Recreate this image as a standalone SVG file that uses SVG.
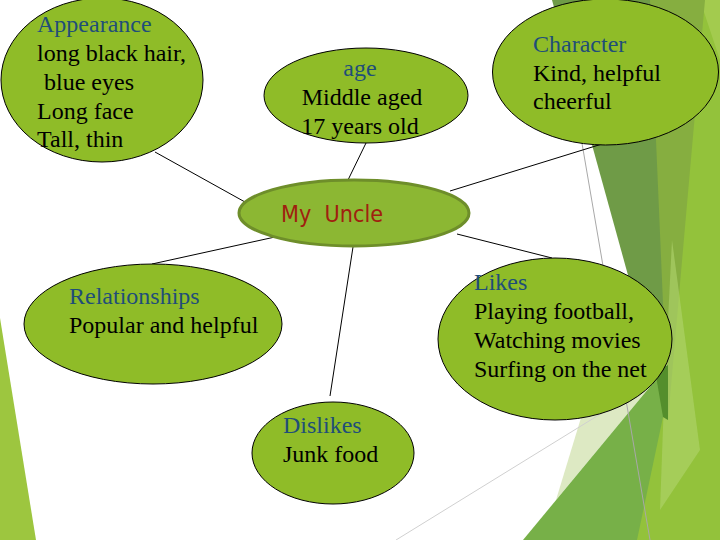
<svg xmlns="http://www.w3.org/2000/svg" width="720" height="540" viewBox="0 0 720 540">
<style>
.bub{fill:#8FBC28;stroke:#000;stroke-width:1}
.hub{fill:#8CB733;stroke:#6E8E2A;stroke-width:3}
.t{font-family:"Liberation Serif","Times New Roman",serif;font-size:24px;fill:#000}
.h{fill:#1F4E79}
.c{stroke:#000;stroke-width:1;fill:none}
.hubt{font-family:"DejaVu Sans Condensed","DejaVu Sans",Verdana,sans-serif;font-size:23px;fill:#A0200F}
</style>
<rect width="720" height="540" fill="#fff"/>
<g id="background">
<polygon points="0,318 36,540 0,540" fill="#9DC63F"/>
<polygon points="680,0 720,0 720,540 620,540 668,380" fill="#93C23B"/>
<polygon points="700,0 720,0 720,60" fill="#A3CB4E"/>
<polygon points="640,0 705,0 668,420" fill="#86AE40"/>
<polygon points="552,0 650,0 668,420" fill="#6F9B47"/>
<polygon points="672,240 700,450 660,510 664,400" fill="#B0D46E" opacity="0.6"/>
<polygon points="556,500 594,375 668,365" fill="#DDE9C3"/>
<polygon points="523,540 668,365 663,417 637,540" fill="#77B048"/>
<polygon points="655,370 668,365 668,420 663,417" fill="#548E2C"/>
<line x1="578" y1="120" x2="650" y2="540" stroke="#A8A8A8" stroke-width="1"/>
<line x1="396" y1="540" x2="602" y2="413" stroke="#D0D0D0" stroke-width="1"/>
</g>
<g id="connectors">
<line class="c" x1="155" y1="152" x2="245" y2="202"/>
<line class="c" x1="366" y1="143" x2="348" y2="180"/>
<line class="c" x1="602" y1="144" x2="450" y2="191"/>
<line class="c" x1="457" y1="234" x2="552" y2="258"/>
<line class="c" x1="275" y1="237" x2="152" y2="264"/>
<line class="c" x1="353" y1="247" x2="330" y2="396"/>
</g>
<g id="appearance">
<ellipse class="bub" cx="102" cy="80" rx="101" ry="82"/>
<text class="t"><tspan class="h" x="37" y="32">Appearance</tspan><tspan x="37" y="61">long black hair,</tspan><tspan x="44" y="90">blue eyes</tspan><tspan x="37" y="119">Long face</tspan><tspan x="37" y="147">Tall, thin</tspan></text>
</g>
<g id="age">
<ellipse class="bub" cx="366" cy="95.5" rx="102" ry="47.5"/>
<text class="t" text-anchor="middle"><tspan class="h" x="360" y="76">age</tspan><tspan x="362" y="105">Middle aged</tspan><tspan x="360" y="134">17 years old</tspan></text>
</g>
<g id="character">
<ellipse class="bub" cx="605.5" cy="72" rx="113" ry="73"/>
<text class="t"><tspan class="h" x="533" y="52">Character</tspan><tspan x="533" y="81">Kind, helpful</tspan><tspan x="533" y="109">cheerful</tspan></text>
</g>
<g id="my-uncle">
<ellipse class="hub" cx="354" cy="213" rx="115" ry="33"/>
<text class="hubt" x="281" y="222" xml:space="preserve" textLength="102" lengthAdjust="spacingAndGlyphs">My  Uncle</text>
</g>
<g id="likes">
<ellipse class="bub" cx="555" cy="339" rx="117" ry="81"/>
<text class="t"><tspan class="h" x="474" y="290">Likes</tspan><tspan x="474" y="319">Playing football,</tspan><tspan x="474" y="348">Watching movies</tspan><tspan x="474" y="377">Surfing on the net</tspan></text>
</g>
<g id="relationships">
<ellipse class="bub" cx="153" cy="324" rx="129" ry="60"/>
<text class="t"><tspan class="h" x="69" y="304">Relationships</tspan><tspan x="69" y="333">Popular and helpful</tspan></text>
</g>
<g id="dislikes">
<ellipse class="bub" cx="333" cy="453" rx="81" ry="51"/>
<text class="t"><tspan class="h" x="283" y="433">Dislikes</tspan><tspan x="283" y="462">Junk food</tspan></text>
</g>
</svg>
